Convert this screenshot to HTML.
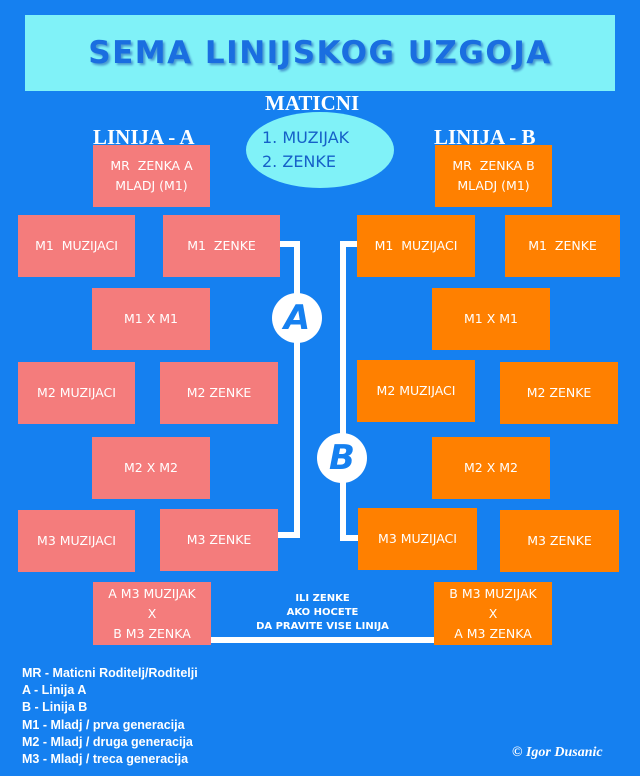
<!DOCTYPE html><html><head><meta charset="utf-8"><style>
body{margin:0;width:640px;height:776px;background:#1580f0;position:relative;overflow:hidden;font-family:"DejaVu Sans","Liberation Sans",sans-serif}
div{position:absolute;box-sizing:border-box}
.p{background:#f47c7c;color:#fff;font-size:12.5px;display:flex;align-items:center;justify-content:center;text-align:center;line-height:20px}
.o{background:#ff8000;color:#fff;font-size:12.5px;display:flex;align-items:center;justify-content:center;text-align:center;line-height:20px}
.l{background:#fff}
.h{color:#fff;font-family:"Liberation Serif",serif;font-weight:bold;font-size:21px}
.c{background:#fff;border-radius:50%;width:50px;height:50px;color:#1580f0;font-size:34px;font-weight:bold;font-style:italic;display:flex;align-items:center;justify-content:center}
.lg{left:22px;color:#fff;font-family:"Liberation Sans",sans-serif;font-weight:bold;font-size:12.5px}
</style></head><body>
<div style="left:25px;top:15px;width:590px;height:76px;background:#80f2f8;display:flex;align-items:center;justify-content:center;color:#1a6ee0;font-size:31px;font-weight:bold;letter-spacing:1.5px;text-shadow:2px 2px 2px #4a9ad0">SEMA LINIJSKOG UZGOJA</div>
<div class="h" style="left:265px;top:91px">MATICNI</div>
<div class="h" style="left:93px;top:125px">LINIJA - A</div>
<div class="h" style="left:434px;top:125px">LINIJA - B</div>
<div style="left:246px;top:112px;width:148px;height:76px;border-radius:50%;background:#80f2f8;color:#1560c8;font-size:16px;padding:14px 0 0 16px;line-height:24px">1. MUZIJAK<br>2. ZENKE</div>
<div class="p" style="left:93px;top:145px;width:117px;height:62px">MR &nbsp;ZENKA A<br>MLADJ (M1)</div>
<div class="o" style="left:435px;top:145px;width:117px;height:62px">MR &nbsp;ZENKA B<br>MLADJ (M1)</div>
<div class="p" style="left:18px;top:215px;width:117px;height:62px">M1 &nbsp;MUZIJACI</div>
<div class="p" style="left:163px;top:215px;width:117px;height:62px">M1 &nbsp;ZENKE</div>
<div class="o" style="left:357px;top:215px;width:118px;height:62px">M1 &nbsp;MUZIJACI</div>
<div class="o" style="left:505px;top:215px;width:115px;height:62px">M1 &nbsp;ZENKE</div>
<div class="p" style="left:92px;top:288px;width:118px;height:62px">M1 X M1</div>
<div class="o" style="left:432px;top:288px;width:118px;height:62px">M1 X M1</div>
<div class="p" style="left:18px;top:362px;width:117px;height:62px">M2 MUZIJACI</div>
<div class="p" style="left:160px;top:362px;width:118px;height:62px">M2 ZENKE</div>
<div class="o" style="left:357px;top:360px;width:118px;height:62px">M2 MUZIJACI</div>
<div class="o" style="left:500px;top:362px;width:118px;height:62px">M2 ZENKE</div>
<div class="p" style="left:92px;top:437px;width:118px;height:62px">M2 X M2</div>
<div class="o" style="left:432px;top:437px;width:118px;height:62px">M2 X M2</div>
<div class="p" style="left:18px;top:510px;width:117px;height:62px">M3 MUZIJACI</div>
<div class="p" style="left:160px;top:509px;width:118px;height:62px">M3 ZENKE</div>
<div class="o" style="left:358px;top:508px;width:119px;height:62px">M3 MUZIJACI</div>
<div class="o" style="left:500px;top:510px;width:119px;height:62px">M3 ZENKE</div>
<div class="p" style="left:93px;top:582px;width:118px;height:63px">A M3 MUZIJAK<br>X<br>B M3 ZENKA</div>
<div class="o" style="left:434px;top:582px;width:118px;height:63px">B M3 MUZIJAK<br>X<br>A M3 ZENKA</div>
<div class="l" style="left:280px;top:241px;width:20px;height:6px"></div>
<div class="l" style="left:294px;top:241px;width:6px;height:297px"></div>
<div class="l" style="left:278px;top:532px;width:22px;height:6px"></div>
<div class="l" style="left:340px;top:241px;width:17px;height:6px"></div>
<div class="l" style="left:340px;top:241px;width:6px;height:300px"></div>
<div class="l" style="left:340px;top:535px;width:18px;height:6px"></div>
<div class="l" style="left:211px;top:637px;width:223px;height:6px"></div>
<div class="c" style="left:272px;top:293px">A</div>
<div class="c" style="left:317px;top:433px">B</div>
<div style="left:211px;top:592px;width:223px;text-align:center;color:#fff;font-size:10px;font-weight:bold;line-height:14px">ILI ZENKE<br>AKO HOCETE<br>DA PRAVITE VISE LINIJA</div>
<div class="lg" style="top:666px">MR - Maticni Roditelj/Roditelji</div>
<div class="lg" style="top:683px">A - Linija A</div>
<div class="lg" style="top:700px">B - Linija B</div>
<div class="lg" style="top:718px">M1 - Mladj / prva generacija</div>
<div class="lg" style="top:735px">M2 - Mladj / druga generacija</div>
<div class="lg" style="top:752px">M3 - Mladj / treca generacija</div>
<div style="left:512px;top:745px;color:#fff;font-family:'Liberation Serif',serif;font-style:italic;font-weight:bold;font-size:14px">© Igor Dusanic</div>
</body></html>
